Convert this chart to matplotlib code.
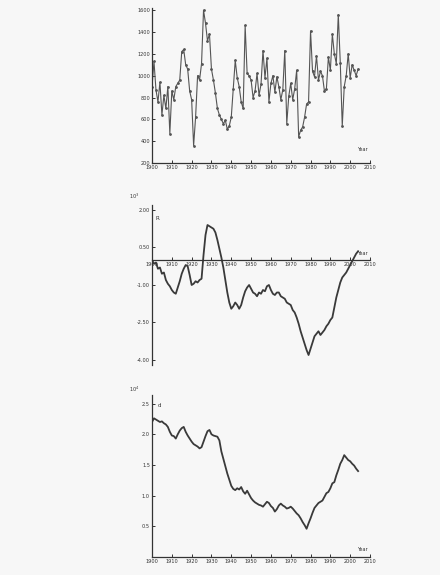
import numpy as np
import matplotlib
matplotlib.use("Agg")
import matplotlib.pyplot as plt

years = np.arange(1900, 2005)

# annual series
annual = [
    900, 1130, 870, 760, 940, 640, 820, 700, 900, 470,
    860, 780, 900, 930, 960, 1220, 1240, 1100, 1060, 860,
    780, 360, 620, 1000, 960, 1110, 1600, 1480, 1320, 1380,
    1060, 960, 840, 700, 640, 600, 560, 590, 510, 540,
    620, 880, 1140, 980, 900, 760, 700, 1460, 1020, 1000,
    960, 800, 860, 1020, 820, 920, 1230, 980, 1160, 760,
    930, 1000, 850, 990, 900, 780, 870, 1230, 560, 810,
    930, 780, 880, 1050, 440, 500, 530, 620, 740, 760,
    1410, 1040, 990, 1180, 960, 1040, 1000, 860, 880, 1170,
    1050, 1380, 1200, 1110, 1560, 1120, 540, 900, 1000, 1200,
    980, 1100, 1050, 1000, 1060,
]

# cumulative anomaly (x10^3)
cum_anom = [
    0.0, -0.15, -0.1, -0.35, -0.3, -0.55, -0.5, -0.8, -0.95, -1.05,
    -1.2, -1.3, -1.35, -1.1, -0.85, -0.55, -0.35, -0.2, -0.25, -0.6,
    -1.0, -0.95, -0.85, -0.9, -0.8, -0.75, 0.2, 1.0, 1.4, 1.35,
    1.3, 1.25, 1.1, 0.8, 0.45, 0.1, -0.3, -0.8, -1.3, -1.7,
    -1.95, -1.85, -1.7, -1.8, -1.95, -1.8, -1.5, -1.25, -1.1, -1.0,
    -1.15, -1.3, -1.35, -1.45, -1.3, -1.35, -1.2, -1.25, -1.05, -1.0,
    -1.2, -1.35, -1.4, -1.3, -1.3, -1.45, -1.5, -1.55, -1.7, -1.75,
    -1.8, -2.0, -2.1, -2.3, -2.55, -2.85, -3.1, -3.35, -3.6, -3.8,
    -3.55, -3.3, -3.05, -2.95, -2.85, -3.0, -2.9, -2.8, -2.65, -2.55,
    -2.4, -2.3, -1.9, -1.5, -1.2, -0.9, -0.7, -0.6, -0.5, -0.35,
    -0.2, -0.05, 0.1, 0.25, 0.35,
]

# third series
index_d = [
    2.20, 2.26, 2.24, 2.22, 2.20, 2.21, 2.18, 2.16, 2.12, 2.04,
    1.98, 1.97, 1.93, 2.00, 2.06, 2.10, 2.12, 2.04, 1.98, 1.93,
    1.88, 1.84, 1.82, 1.80, 1.77, 1.79, 1.88, 1.97, 2.05, 2.07,
    2.00, 1.98, 1.97, 1.96, 1.90, 1.72, 1.60, 1.48, 1.36, 1.26,
    1.16, 1.11, 1.09, 1.12, 1.10, 1.14, 1.07, 1.03, 1.08, 1.02,
    0.96, 0.92, 0.89, 0.87, 0.85, 0.84, 0.82, 0.86, 0.90, 0.88,
    0.83, 0.80, 0.74, 0.78, 0.84, 0.87, 0.84, 0.82, 0.79, 0.80,
    0.82, 0.79, 0.75, 0.71, 0.68, 0.63, 0.57, 0.52, 0.46, 0.55,
    0.63, 0.72, 0.80, 0.84, 0.88, 0.90, 0.92, 0.98, 1.04, 1.06,
    1.12, 1.20, 1.22, 1.33, 1.42, 1.52, 1.58, 1.66, 1.62, 1.58,
    1.56, 1.52, 1.49, 1.44, 1.40,
]

decades = np.arange(1900, 2011, 10)
ticks1 = [200, 400, 600, 800, 1000, 1200, 1400, 1600]
ticks2 = [2.0, 0.5, -1.0, -2.5, -4.0]
ticks3 = [0.5, 1.0, 1.5, 2.0, 2.5]

fs = 3.6
ink = "#333333"
bg = "#f7f7f7"

fig = plt.figure(figsize=(4.4, 5.75), dpi=100, facecolor=bg)
left, width = 152 / 440, 218 / 440


def frame(ax):
    ax.set_facecolor(bg)
    ax.set_xlim(1900, 2010)
    ax.spines["top"].set_visible(False)
    ax.spines["right"].set_visible(False)
    for s in ("left", "bottom"):
        ax.spines[s].set_color(ink)
        ax.spines[s].set_linewidth(0.9)
    ax.set_xticks(decades)
    ax.set_xticklabels([str(d) for d in decades])
    ax.tick_params(direction="in", length=2.5, width=0.7, colors=ink,
                   labelsize=fs, pad=1.5)


# top: annual series
ax1 = fig.add_axes([left, 1 - 163 / 575, width, 155 / 575])
frame(ax1)
ax1.plot(years, annual, color="#555555", lw=0.8, marker="o", ms=1.0)
ax1.set_ylim(200, 1620)
ax1.set_yticks(ticks1)
ax1.text(2009, 300, "Year", fontsize=fs, color=ink, ha="right", va="bottom")

# middle: cumulative anomaly
ax2 = fig.add_axes([left, 1 - 365 / 575, width, 160 / 575])
frame(ax2)
ax2.spines["bottom"].set_position(("data", 0))
ax2.plot(years, cum_anom, color="#3a3a3a", lw=1.3)
ax2.set_ylim(-4.2, 2.2)
ax2.set_yticks(ticks2)
ax2.set_yticklabels(["%.2f" % t for t in ticks2])
ax2.text(2009, 0.15, "Year", fontsize=fs, color=ink, ha="right", va="bottom")
ax2.text(1902, 1.6, "R", fontsize=fs + 0.5, color=ink)
ax2.text(-0.08, 1.04, "10$^{3}$", transform=ax2.transAxes,
         fontsize=fs, color=ink, ha="center")

# bottom: third series
ax3 = fig.add_axes([left, 1 - 557 / 575, width, 162 / 575])
frame(ax3)
ax3.plot(years, index_d, color="#3a3a3a", lw=1.3)
ax3.set_ylim(0, 2.64)
ax3.set_yticks(ticks3)
ax3.text(2009, 0.08, "Year", fontsize=fs, color=ink, ha="right", va="bottom")
ax3.text(1903, 2.45, "d", fontsize=fs + 0.5, color=ink)
ax3.text(-0.08, 1.02, "10$^{4}$", transform=ax3.transAxes,
         fontsize=fs, color=ink, ha="center")

fig.savefig("out.png", dpi=100, facecolor=bg)
